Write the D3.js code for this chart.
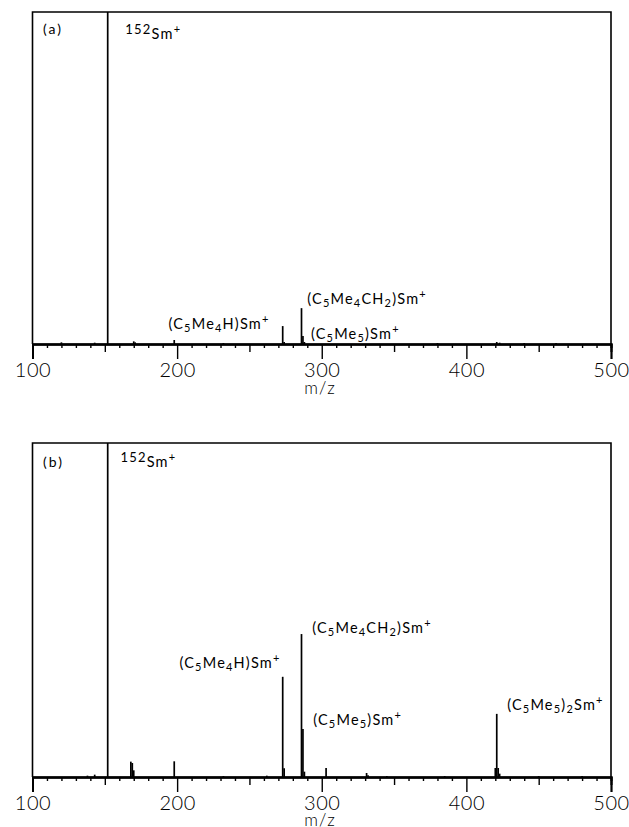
<!DOCTYPE html>
<html><head><meta charset="utf-8">
<script src="https://cdn.jsdelivr.net/npm/d3@7"></script>
<style>
html,body{margin:0;padding:0;background:#fff;}
svg{display:block;}
</style></head>
<body>
<script>
// ---- data ----
const mzDomain = [100, 500];
const majorTicks = [100, 200, 300, 400, 500];
const midTicks = [150, 250, 350, 450];
const minorTicks = d3.range(110, 500, 10).filter(v => v % 50 !== 0);
const xLabel = "m/z";

// panel (a) peaks: m/z, relative intensity (% of full scale)
const peaksA_mz  = [120, 143, 152, 170, 171, 198, 232, 273, 274, 286, 287, 288, 380, 421, 423, 440, 462];
const peaksA_int = [0.5, 0.4, 100, 0.8, 0.5, 1.2, 0.3, 5.4, 0.6, 10.8, 2.4, 0.6, 0.3, 0.6, 0.4, 0.3, 0.3];

// panel (b) peaks
const peaksB_mz  = [138, 143, 152, 168, 169, 170, 198, 232, 262, 273, 274, 286, 287, 288, 303, 331, 332, 345, 385, 420, 421, 422, 423, 450, 480];
const peaksB_int = [0.4, 0.7, 100, 4.6, 4.2, 2.0, 4.7, 0.3, 0.4, 30.0, 2.6, 42.8, 14.4, 1.6, 2.7, 1.2, 0.5, 0.3, 0.3, 2.7, 18.9, 2.7, 1.0, 0.3, 0.3];

// annotations: parts [text, kind] kind: n normal, b subscript, p superscript, i isotope prefix
const labelsA = [
  {mz: 164.2, val: 92.0, parts: [["152","i"],["Sm","n"],["+","p"]]},
  {mz: 194.0, val: 4.5,  parts: [["(C","n"],["5","b"],["Me","n"],["4","b"],["H)Sm","n"],["+","p"]]},
  {mz: 290.0, val: 12.0, parts: [["(C","n"],["5","b"],["Me","n"],["4","b"],["CH","n"],["2","b"],[")Sm","n"],["+","p"]]},
  {mz: 292.5, val: 1.5,  parts: [["(C","n"],["5","b"],["Me","n"],["5","b"],[")Sm","n"],["+","p"]]}
];
const labelsB = [
  {mz: 160.8, val: 92.7, parts: [["152","i"],["Sm","n"],["+","p"]]},
  {mz: 201.6, val: 32.7, parts: [["(C","n"],["5","b"],["Me","n"],["4","b"],["H)Sm","n"],["+","p"]]},
  {mz: 293.4, val: 43.2, parts: [["(C","n"],["5","b"],["Me","n"],["4","b"],["CH","n"],["2","b"],[")Sm","n"],["+","p"]]},
  {mz: 294.1, val: 15.6, parts: [["(C","n"],["5","b"],["Me","n"],["5","b"],[")Sm","n"],["+","p"]]},
  {mz: 428.2, val: 20.2, parts: [["(C","n"],["5","b"],["Me","n"],["5","b"],[")","n"],["2","b"],["Sm","n"],["+","p"]]}
];
const panelTags = ["(a)", "(b)"];

// ---- drawing ----
const W = 629, H = 827;
const svg = d3.select("body").append("svg").attr("width", W).attr("height", H);
const x = d3.scaleLinear().domain(mzDomain).range([32.5, 611]);

const panels = [
  {top: 12, base: 344, mz: peaksA_mz, ints: peaksA_int, labels: labelsA, tag: panelTags[0], tagY: 34, xlabY: 394},
  {top: 443, base: 777, mz: peaksB_mz, ints: peaksB_int, labels: labelsB, tag: panelTags[1], tagY: 467, xlabY: 826}
];

const FONT = "Lato, 'DejaVu Sans', sans-serif";

panels.forEach(p => {
  const y = d3.scaleLinear().domain([0, 100]).range([p.base, p.top]);
  const g = svg.append("g");

  // frame (left, top, right)
  g.append("path")
    .attr("d", `M${x(mzDomain[0])},${p.base}V${p.top}H${x(mzDomain[1])}V${p.base}`)
    .attr("fill", "none").attr("stroke", "#000").attr("stroke-width", 1.6);

  // peaks
  g.selectAll("line.pk").data(p.mz.map((m, i) => ({m, v: p.ints[i]})))
    .join("line").attr("class", "pk")
    .attr("x1", d => x(d.m)).attr("x2", d => x(d.m))
    .attr("y1", p.base).attr("y2", d => y(Math.min(d.v, 100)))
    .attr("stroke", "#000").attr("stroke-width", 1.7);

  // axes
  const mk = (vals, size) => d3.axisBottom(x).tickValues(vals).tickSize(size).tickFormat("");
  const a1 = g.append("g").attr("transform", `translate(0,${p.base})`).call(mk(minorTicks, 4));
  const a2 = g.append("g").attr("transform", `translate(0,${p.base})`).call(mk(midTicks, 8));
  const a3 = g.append("g").attr("transform", `translate(0,${p.base})`)
    .call(d3.axisBottom(x).tickValues(majorTicks).tickSize(15).tickPadding(4).tickFormat(d3.format("d")));
  [a1, a2, a3].forEach(a => {
    a.select(".domain").attr("stroke-width", 2).attr("stroke", "#000");
    a.selectAll(".tick line").attr("stroke", "#000").attr("stroke-width", 1.4);
  });
  a3.selectAll(".tick text").attr("font-family", FONT).attr("font-weight", 300)
    .attr("font-size", 20).attr("fill", "#000").attr("letter-spacing", 0.5);

  // x label
  g.append("text").attr("x", 320).attr("y", p.xlabY).attr("text-anchor", "middle")
    .attr("font-family", FONT).attr("font-weight", 300).attr("font-size", 17)
    .attr("letter-spacing", 1).text(xLabel);

  // panel tag
  g.append("text").attr("x", 43).attr("y", p.tagY).attr("font-family", FONT)
    .attr("font-size", 14).attr("letter-spacing", 2).attr("fill", "#000").text(p.tag);

  // annotations
  p.labels.forEach(L => {
    const t = g.append("text").attr("x", x(L.mz)).attr("y", y(L.val))
      .attr("font-family", FONT).attr("font-size", 14.5).attr("letter-spacing", 1.2).attr("fill", "#000");
    let shift = 0;
    L.parts.forEach(([s, k]) => {
      let target = 0, fs = 14.5;
      if (k === "b") { target = 3; fs = 11; }
      else if (k === "p") { target = -6; fs = 11; }
      else if (k === "i") { target = -5; fs = 13; }
      t.append("tspan").attr("dy", target - shift).attr("font-size", fs).text(s);
      shift = target;
    });
  });
});
</script>
</body></html>
